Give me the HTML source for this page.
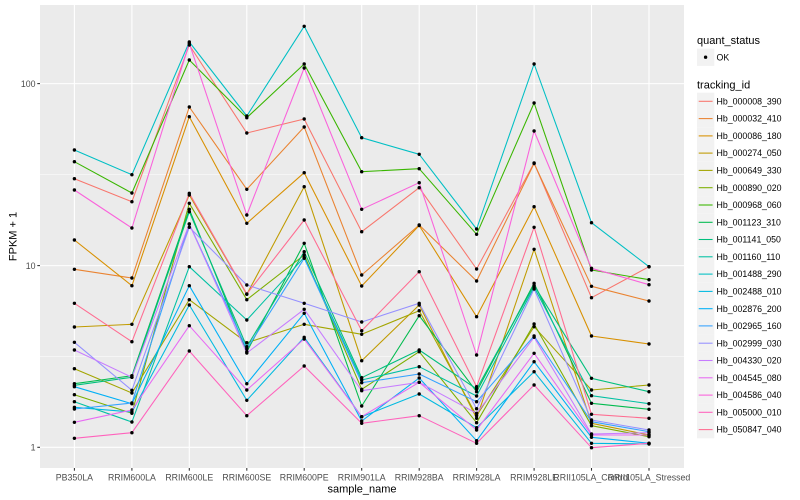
<!DOCTYPE html>
<html><head><meta charset="utf-8"><style>
html,body{margin:0;padding:0;background:#fff;}
svg{display:block;font-family:"Liberation Sans",Arial,sans-serif;}
</style></head><body>
<svg width="800" height="500" viewBox="0 0 800 500" xmlns="http://www.w3.org/2000/svg">
<defs>
<marker id="dot" markerUnits="userSpaceOnUse" markerWidth="6" markerHeight="6" refX="3" refY="3"><circle cx="3" cy="3" r="1.7" fill="#000"/></marker>
</defs>
<rect x="0" y="0" width="800" height="500" fill="#fff"/>
<rect x="40" y="5" width="644" height="463" fill="#EBEBEB"/>
<g stroke="#fff" fill="none">
<line x1="40" x2="684" y1="356.5" y2="356.5" stroke-width="0.53"/>
<line x1="40" x2="684" y1="174.6" y2="174.6" stroke-width="0.53"/>
<line x1="40" x2="684" y1="447.3" y2="447.3" stroke-width="1.07"/>
<line x1="40" x2="684" y1="265.6" y2="265.6" stroke-width="1.07"/>
<line x1="40" x2="684" y1="83.6" y2="83.6" stroke-width="1.07"/>
<g stroke-width="1.07">
<line x1="74.4" x2="74.4" y1="5" y2="468"/>
<line x1="131.9" x2="131.9" y1="5" y2="468"/>
<line x1="189.3" x2="189.3" y1="5" y2="468"/>
<line x1="246.8" x2="246.8" y1="5" y2="468"/>
<line x1="304.2" x2="304.2" y1="5" y2="468"/>
<line x1="361.7" x2="361.7" y1="5" y2="468"/>
<line x1="419.2" x2="419.2" y1="5" y2="468"/>
<line x1="476.6" x2="476.6" y1="5" y2="468"/>
<line x1="534.1" x2="534.1" y1="5" y2="468"/>
<line x1="591.5" x2="591.5" y1="5" y2="468"/>
<line x1="649" x2="649" y1="5" y2="468"/>
</g>
</g>
<g fill="none" stroke-width="1.07" stroke-linejoin="round">
<polyline stroke="#F8766D" points="74.4,178.7 131.9,201.7 189.3,45 246.8,133 304.2,119 361.7,231.7 419.2,187.7 476.6,269 534.1,163 591.5,297.7 649,266.7"/>
<polyline stroke="#EA8331" points="74.4,269.3 131.9,278 189.3,107 246.8,189.3 304.2,127 361.7,275 419.2,225 476.6,281 534.1,163.5 591.5,286.3 649,301"/>
<polyline stroke="#D89000" points="74.4,240 131.9,285.7 189.3,116.7 246.8,223.3 304.2,172.7 361.7,286 419.2,225.5 476.6,316.7 534.1,206.7 591.5,336 649,344"/>
<polyline stroke="#C09B00" points="74.4,327 131.9,324.3 189.3,195 246.8,294.3 304.2,186.7 361.7,360.7 419.2,305 476.6,418.3 534.1,249.3 591.5,423.3 649,435"/>
<polyline stroke="#A3A500" points="74.4,368.7 131.9,393 189.3,299.7 246.8,342.7 304.2,324.3 361.7,334.3 419.2,310.7 476.6,415.7 534.1,326.7 591.5,390 649,385"/>
<polyline stroke="#7CAE00" points="74.4,394.7 131.9,413.3 189.3,203.3 246.8,299.7 304.2,255 361.7,389.3 419.2,351.7 476.6,422.7 534.1,324 591.5,425.7 649,436.7"/>
<polyline stroke="#39B600" points="74.4,161.7 131.9,193 189.3,60 246.8,117.7 304.2,64 361.7,171.7 419.2,168.7 476.6,234.3 534.1,103 591.5,270 649,279.7"/>
<polyline stroke="#00BB4E" points="74.4,383.7 131.9,375.7 189.3,209.3 246.8,351.7 304.2,243.3 361.7,406 419.2,315.7 476.6,391.7 534.1,283.3 591.5,403.3 649,409.3"/>
<polyline stroke="#00BF7D" points="74.4,385.3 131.9,377.3 189.3,211.7 246.8,346.7 304.2,251.7 361.7,377.7 419.2,350 476.6,389 534.1,285.3 591.5,378.3 649,391.7"/>
<polyline stroke="#00C1A3" points="74.4,401.7 131.9,422 189.3,266.7 246.8,320 304.2,257.3 361.7,380 419.2,366.7 476.6,396 534.1,287.3 591.5,395.7 649,403.7"/>
<polyline stroke="#00BFC4" points="74.4,150 131.9,174.7 189.3,42 246.8,116 304.2,26.3 361.7,137.7 419.2,154.3 476.6,229 534.1,64 591.5,222.7 649,266.7"/>
<polyline stroke="#00BAE0" points="74.4,407.3 131.9,412 189.3,305 246.8,400.3 304.2,337.3 361.7,416.7 419.2,394 476.6,427.7 534.1,371.7 591.5,443.3 649,444"/>
<polyline stroke="#00B0F6" points="74.4,386.7 131.9,403.7 189.3,285.7 246.8,383.7 304.2,313.3 361.7,421 419.2,378 476.6,440.7 534.1,361.7 591.5,437.3 649,443.3"/>
<polyline stroke="#35A2FF" points="74.4,409 131.9,403 189.3,224 246.8,349 304.2,258.3 361.7,382.7 419.2,374 476.6,401.7 534.1,336 591.5,421.7 649,431.7"/>
<polyline stroke="#9590FF" points="74.4,342.3 131.9,390.3 189.3,227.3 246.8,285 304.2,303.3 361.7,322 419.2,303.3 476.6,408.7 534.1,289 591.5,420 649,430"/>
<polyline stroke="#C77CFF" points="74.4,350 131.9,377.3 189.3,224 246.8,353 304.2,309.3 361.7,390.7 419.2,382.3 476.6,413.3 534.1,337.3 591.5,434 649,432.7"/>
<polyline stroke="#E76BF3" points="74.4,422.3 131.9,410 189.3,325.7 246.8,390 304.2,339 361.7,416.7 419.2,382.3 476.6,430 534.1,353.3 591.5,435 649,435"/>
<polyline stroke="#FA62DB" points="74.4,190 131.9,228 189.3,43.3 246.8,215 304.2,68 361.7,209.3 419.2,182.7 476.6,355 534.1,131 591.5,268.3 649,284.7"/>
<polyline stroke="#FF62BC" points="74.4,438.3 131.9,432.7 189.3,351 246.8,415.7 304.2,366 361.7,423.3 419.2,415.7 476.6,443.3 534.1,385 591.5,447.7 649,443.3"/>
<polyline stroke="#FF6C91" points="74.4,303.3 131.9,341.7 189.3,193.3 246.8,294 304.2,220 361.7,330.7 419.2,271.7 476.6,386.7 534.1,227.3 591.5,414.3 649,418.3"/>
</g>
<g fill="none" stroke="none" marker-start="url(#dot)" marker-mid="url(#dot)" marker-end="url(#dot)">
<polyline points="74.4,178.7 131.9,201.7 189.3,45 246.8,133 304.2,119 361.7,231.7 419.2,187.7 476.6,269 534.1,163 591.5,297.7 649,266.7"/>
<polyline points="74.4,269.3 131.9,278 189.3,107 246.8,189.3 304.2,127 361.7,275 419.2,225 476.6,281 534.1,163.5 591.5,286.3 649,301"/>
<polyline points="74.4,240 131.9,285.7 189.3,116.7 246.8,223.3 304.2,172.7 361.7,286 419.2,225.5 476.6,316.7 534.1,206.7 591.5,336 649,344"/>
<polyline points="74.4,327 131.9,324.3 189.3,195 246.8,294.3 304.2,186.7 361.7,360.7 419.2,305 476.6,418.3 534.1,249.3 591.5,423.3 649,435"/>
<polyline points="74.4,368.7 131.9,393 189.3,299.7 246.8,342.7 304.2,324.3 361.7,334.3 419.2,310.7 476.6,415.7 534.1,326.7 591.5,390 649,385"/>
<polyline points="74.4,394.7 131.9,413.3 189.3,203.3 246.8,299.7 304.2,255 361.7,389.3 419.2,351.7 476.6,422.7 534.1,324 591.5,425.7 649,436.7"/>
<polyline points="74.4,161.7 131.9,193 189.3,60 246.8,117.7 304.2,64 361.7,171.7 419.2,168.7 476.6,234.3 534.1,103 591.5,270 649,279.7"/>
<polyline points="74.4,383.7 131.9,375.7 189.3,209.3 246.8,351.7 304.2,243.3 361.7,406 419.2,315.7 476.6,391.7 534.1,283.3 591.5,403.3 649,409.3"/>
<polyline points="74.4,385.3 131.9,377.3 189.3,211.7 246.8,346.7 304.2,251.7 361.7,377.7 419.2,350 476.6,389 534.1,285.3 591.5,378.3 649,391.7"/>
<polyline points="74.4,401.7 131.9,422 189.3,266.7 246.8,320 304.2,257.3 361.7,380 419.2,366.7 476.6,396 534.1,287.3 591.5,395.7 649,403.7"/>
<polyline points="74.4,150 131.9,174.7 189.3,42 246.8,116 304.2,26.3 361.7,137.7 419.2,154.3 476.6,229 534.1,64 591.5,222.7 649,266.7"/>
<polyline points="74.4,407.3 131.9,412 189.3,305 246.8,400.3 304.2,337.3 361.7,416.7 419.2,394 476.6,427.7 534.1,371.7 591.5,443.3 649,444"/>
<polyline points="74.4,386.7 131.9,403.7 189.3,285.7 246.8,383.7 304.2,313.3 361.7,421 419.2,378 476.6,440.7 534.1,361.7 591.5,437.3 649,443.3"/>
<polyline points="74.4,409 131.9,403 189.3,224 246.8,349 304.2,258.3 361.7,382.7 419.2,374 476.6,401.7 534.1,336 591.5,421.7 649,431.7"/>
<polyline points="74.4,342.3 131.9,390.3 189.3,227.3 246.8,285 304.2,303.3 361.7,322 419.2,303.3 476.6,408.7 534.1,289 591.5,420 649,430"/>
<polyline points="74.4,350 131.9,377.3 189.3,224 246.8,353 304.2,309.3 361.7,390.7 419.2,382.3 476.6,413.3 534.1,337.3 591.5,434 649,432.7"/>
<polyline points="74.4,422.3 131.9,410 189.3,325.7 246.8,390 304.2,339 361.7,416.7 419.2,382.3 476.6,430 534.1,353.3 591.5,435 649,435"/>
<polyline points="74.4,190 131.9,228 189.3,43.3 246.8,215 304.2,68 361.7,209.3 419.2,182.7 476.6,355 534.1,131 591.5,268.3 649,284.7"/>
<polyline points="74.4,438.3 131.9,432.7 189.3,351 246.8,415.7 304.2,366 361.7,423.3 419.2,415.7 476.6,443.3 534.1,385 591.5,447.7 649,443.3"/>
<polyline points="74.4,303.3 131.9,341.7 189.3,193.3 246.8,294 304.2,220 361.7,330.7 419.2,271.7 476.6,386.7 534.1,227.3 591.5,414.3 649,418.3"/>
</g>
<!-- axes ticks -->
<g stroke="#333" stroke-width="1.07">
<line x1="37.3" x2="40" y1="447.3" y2="447.3"/>
<line x1="37.3" x2="40" y1="265.6" y2="265.6"/>
<line x1="37.3" x2="40" y1="83.6" y2="83.6"/>
<line x1="74.4" x2="74.4" y1="468" y2="470.7"/>
<line x1="131.9" x2="131.9" y1="468" y2="470.7"/>
<line x1="189.3" x2="189.3" y1="468" y2="470.7"/>
<line x1="246.8" x2="246.8" y1="468" y2="470.7"/>
<line x1="304.2" x2="304.2" y1="468" y2="470.7"/>
<line x1="361.7" x2="361.7" y1="468" y2="470.7"/>
<line x1="419.2" x2="419.2" y1="468" y2="470.7"/>
<line x1="476.6" x2="476.6" y1="468" y2="470.7"/>
<line x1="534.1" x2="534.1" y1="468" y2="470.7"/>
<line x1="591.5" x2="591.5" y1="468" y2="470.7"/>
<line x1="649" x2="649" y1="468" y2="470.7"/>
</g>
<g fill="#4D4D4D" font-size="8.8" text-anchor="end">
<text x="35.5" y="450.5">1</text>
<text x="35.5" y="268.8">10</text>
<text x="35.5" y="86.8">100</text>
</g>
<g fill="#4D4D4D" font-size="8.8" text-anchor="middle">
<text x="74.4" y="480.5">PB350LA</text>
<text x="131.9" y="480.5">RRIM600LA</text>
<text x="189.3" y="480.5">RRIM600LE</text>
<text x="246.8" y="480.5">RRIM600SE</text>
<text x="304.2" y="480.5">RRIM600PE</text>
<text x="361.7" y="480.5">RRIM901LA</text>
<text x="419.2" y="480.5">RRIM928BA</text>
<text x="476.6" y="480.5">RRIM928LA</text>
<text x="534.1" y="480.5">RRIM928LE</text>
<text x="591.5" y="480.5">RRII105LA_Control</text>
<text x="649" y="480.5">RRII105LA_Stressed</text>
</g>
<text x="362" y="492.5" font-size="11" text-anchor="middle" fill="#000">sample_name</text>
<text transform="translate(16.5,236.5) rotate(-90)" font-size="11" text-anchor="middle" fill="#000">FPKM + 1</text>
<!-- legend -->
<text x="697" y="44" font-size="11" fill="#000">quant_status</text>
<rect x="697" y="48.6" width="17.3" height="17.3" fill="#F2F2F2"/>
<circle cx="705.6" cy="57.2" r="1.7" fill="#000"/>
<text x="716.5" y="60.3" font-size="8.8" fill="#000">OK</text>
<text x="697" y="88.5" font-size="11" fill="#000">tracking_id</text>
<g fill="#F2F2F2">
<rect x="697" y="92.7" width="17.3" height="17.3"/>
<rect x="697" y="110" width="17.3" height="17.3"/>
<rect x="697" y="127.3" width="17.3" height="17.3"/>
<rect x="697" y="144.5" width="17.3" height="17.3"/>
<rect x="697" y="161.8" width="17.3" height="17.3"/>
<rect x="697" y="179.1" width="17.3" height="17.3"/>
<rect x="697" y="196.4" width="17.3" height="17.3"/>
<rect x="697" y="213.7" width="17.3" height="17.3"/>
<rect x="697" y="230.9" width="17.3" height="17.3"/>
<rect x="697" y="248.2" width="17.3" height="17.3"/>
<rect x="697" y="265.5" width="17.3" height="17.3"/>
<rect x="697" y="282.8" width="17.3" height="17.3"/>
<rect x="697" y="300.1" width="17.3" height="17.3"/>
<rect x="697" y="317.3" width="17.3" height="17.3"/>
<rect x="697" y="334.6" width="17.3" height="17.3"/>
<rect x="697" y="351.9" width="17.3" height="17.3"/>
<rect x="697" y="369.2" width="17.3" height="17.3"/>
<rect x="697" y="386.5" width="17.3" height="17.3"/>
<rect x="697" y="403.7" width="17.3" height="17.3"/>
<rect x="697" y="421" width="17.3" height="17.3"/>
</g>
<g stroke-width="1.07">
<line x1="698.7" x2="712.6" y1="101.3" y2="101.3" stroke="#F8766D"/>
<line x1="698.7" x2="712.6" y1="118.6" y2="118.6" stroke="#EA8331"/>
<line x1="698.7" x2="712.6" y1="135.9" y2="135.9" stroke="#D89000"/>
<line x1="698.7" x2="712.6" y1="153.1" y2="153.1" stroke="#C09B00"/>
<line x1="698.7" x2="712.6" y1="170.4" y2="170.4" stroke="#A3A500"/>
<line x1="698.7" x2="712.6" y1="187.7" y2="187.7" stroke="#7CAE00"/>
<line x1="698.7" x2="712.6" y1="205" y2="205" stroke="#39B600"/>
<line x1="698.7" x2="712.6" y1="222.3" y2="222.3" stroke="#00BB4E"/>
<line x1="698.7" x2="712.6" y1="239.5" y2="239.5" stroke="#00BF7D"/>
<line x1="698.7" x2="712.6" y1="256.8" y2="256.8" stroke="#00C1A3"/>
<line x1="698.7" x2="712.6" y1="274.1" y2="274.1" stroke="#00BFC4"/>
<line x1="698.7" x2="712.6" y1="291.4" y2="291.4" stroke="#00BAE0"/>
<line x1="698.7" x2="712.6" y1="308.7" y2="308.7" stroke="#00B0F6"/>
<line x1="698.7" x2="712.6" y1="325.9" y2="325.9" stroke="#35A2FF"/>
<line x1="698.7" x2="712.6" y1="343.2" y2="343.2" stroke="#9590FF"/>
<line x1="698.7" x2="712.6" y1="360.5" y2="360.5" stroke="#C77CFF"/>
<line x1="698.7" x2="712.6" y1="377.8" y2="377.8" stroke="#E76BF3"/>
<line x1="698.7" x2="712.6" y1="395.1" y2="395.1" stroke="#FA62DB"/>
<line x1="698.7" x2="712.6" y1="412.3" y2="412.3" stroke="#FF62BC"/>
<line x1="698.7" x2="712.6" y1="429.6" y2="429.6" stroke="#FF6C91"/>
</g>
<g font-size="8.8" fill="#000">
<text x="716.5" y="104.4">Hb_000008_390</text>
<text x="716.5" y="121.7">Hb_000032_410</text>
<text x="716.5" y="139">Hb_000086_180</text>
<text x="716.5" y="156.2">Hb_000274_050</text>
<text x="716.5" y="173.5">Hb_000649_330</text>
<text x="716.5" y="190.8">Hb_000890_020</text>
<text x="716.5" y="208.1">Hb_000968_060</text>
<text x="716.5" y="225.4">Hb_001123_310</text>
<text x="716.5" y="242.6">Hb_001141_050</text>
<text x="716.5" y="259.9">Hb_001160_110</text>
<text x="716.5" y="277.2">Hb_001488_290</text>
<text x="716.5" y="294.5">Hb_002488_010</text>
<text x="716.5" y="311.8">Hb_002876_200</text>
<text x="716.5" y="329">Hb_002965_160</text>
<text x="716.5" y="346.3">Hb_002999_030</text>
<text x="716.5" y="363.6">Hb_004330_020</text>
<text x="716.5" y="380.9">Hb_004545_080</text>
<text x="716.5" y="398.2">Hb_004586_040</text>
<text x="716.5" y="415.4">Hb_005000_010</text>
<text x="716.5" y="432.7">Hb_050847_040</text>
</g>
</svg>
</body></html>
